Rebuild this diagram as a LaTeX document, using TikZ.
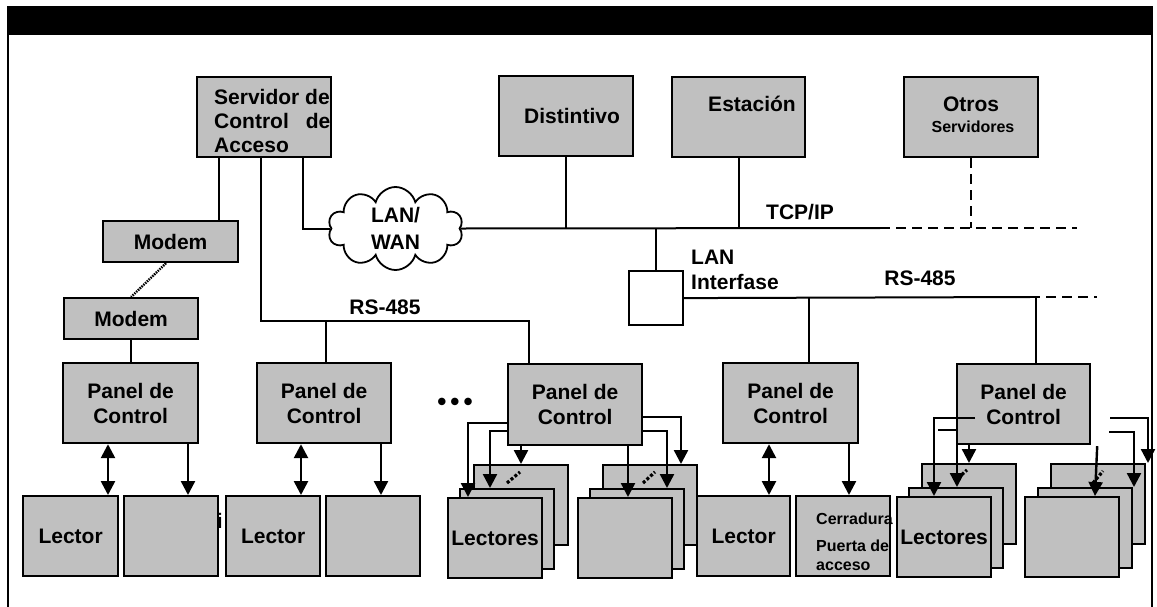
\documentclass[tikz,border=0pt]{standalone}
\usepackage{fontspec}
\setmainfont{Liberation Sans}
\usetikzlibrary{positioning, arrows.meta, calc, shapes.symbols}
\definecolor{boxgray}{HTML}{C0C0C0}

\begin{document}
\begin{tikzpicture}[x=1pt, y=-1pt,
box/.style={rectangle, draw, line width=2.2, fill=boxgray, anchor=north west, inner sep=0, align=center, font=\bfseries\fontsize{21}{25}\selectfont},
lbl/.style={inner sep=0, align=center, font=\bfseries\fontsize{21}{25}\selectfont},
small/.style={inner sep=0, align=left, font=\bfseries\fontsize{16}{19}\selectfont},
ln/.style={line width=2},
dsh/.style={line width=2.4, dash pattern=on 10pt off 6pt},
arr/.style={line width=2.4, -{Triangle[length=14pt, width=14pt]}},
dbl/.style={line width=2.6, {Triangle[length=14pt, width=14pt]}-{Triangle[length=14pt, width=14pt]}},
dots/.style={line width=3.2, dash pattern=on 3pt off 2pt},
]

\useasboundingbox (0,0) rectangle (1157,606);

% Frame and title bar
\draw[line width=1.8] (8,640) -- (8,7) -- (1152,7) -- (1152,640);
\fill (8,7) rectangle (1152,35);

% Servers
\node[box, minimum width=134, minimum height=80] (srv) at (196,76) {};
\node[lbl, align=left, anchor=west, font=\bfseries\fontsize{21}{24}\selectfont] (srvtxt) at (214,121) {Servidor de\\Control\hspace{17pt}de\\Acceso};
\node[box, minimum width=134, minimum height=80] (dist) at (498,75) {};
\node[lbl] (disttxt) at (572,116) {Distintivo};
\node[box, minimum width=133, minimum height=80] (est) at (671,76) {};
\node[lbl] (esttxt) at (752,104) {Estación};
\node[box, minimum width=134, minimum height=80] (otr) at (903,76) {};
\node[lbl] (otrtxt) at (971,104) {Otros};
\node[small] (otrtxt2) at (973,127) {Servidores};

% Network
\node[lbl, cloud, cloud puffs=10, aspect=1.6, draw, fill=white, line width=1.8, minimum width=135, minimum height=83, font=\bfseries\fontsize{21}{27}\selectfont] (lan) at (395.5,228.5) {LAN/\\WAN};
\node[box, fill=white, minimum width=54, minimum height=54] (lif) at (628,270) {};
\node[lbl, align=left, anchor=west] (liftxt) at (691,269.5) {LAN\\Interfase};
\node[lbl] (tcp) at (800,212) {TCP/IP};
\node[lbl] (rs1) at (385,307) {RS-485};
\node[lbl] (rs2) at (920,278) {RS-485};
\coordinate (tcpend) at (880,228);
\coordinate (tcpfar) at (1077,228);
\coordinate (rsend) at (1030,297);
\coordinate (rsfar) at (1097,297);

% Modems and panels
\node[box, minimum width=135, minimum height=41] (m1) at (102,220) {Modem};
\node[box, minimum width=134, minimum height=41] (m2) at (63,297) {Modem};
\node[box, minimum width=135, minimum height=80] (p1) at (62,362) {Panel de\\Control};
\node[box, minimum width=134, minimum height=80] (p2) at (256,362) {Panel de\\Control};
\node[box, minimum width=134, minimum height=81] (p3) at (507,363) {Panel de\\Control};
\node[box, minimum width=135, minimum height=80] (p4) at (722,362) {Panel de\\Control};
\node[box, minimum width=133, minimum height=80] (p5) at (956,363) {Panel de\\Control};
\node[lbl, font=\bfseries\fontsize{26}{25}\selectfont] (more) at (455,404) {•\hspace{4pt}•\hspace{4pt}•};

% Readers and locks
\node[lbl] (frag) at (214,521) {vi};
\node[box, minimum width=95, minimum height=80] (l1) at (22,495) {Lector};
\node[box, minimum width=94, minimum height=80] (b1) at (123,495) {};
\node[box, minimum width=94, minimum height=80] (l2) at (225,495) {Lector};
\node[box, minimum width=94, minimum height=80] (b2) at (325,495) {};
\node[box, minimum width=93, minimum height=80] (l4) at (696,495) {Lector};
\node[box, minimum width=94, minimum height=80] (cer) at (795,495) {};
\node[small, anchor=west] (certxt) at (816,519) {Cerradura};
\node[small, anchor=west] (certxt2) at (816,555.5) {Puerta de\\acceso};

% Stacks
\node[box, minimum width=94, minimum height=80] (l3b) at (473,464) {};
\node[box, minimum width=94, minimum height=80] (l3m) at (459,488) {};
\node[box, minimum width=94, minimum height=80] (l3f) at (447,497) {Lectores};
\node[box, minimum width=94, minimum height=80] (e3b) at (602,464) {};
\node[box, minimum width=94, minimum height=80] (e3m) at (589,488) {};
\node[box, minimum width=94, minimum height=80] (e3f) at (577,497) {};
\node[box, minimum width=94, minimum height=80] (l5b) at (921,463) {};
\node[box, minimum width=94, minimum height=80] (l5m) at (908,487) {};
\node[box, minimum width=94, minimum height=80] (l5f) at (896,496) {Lectores};
\node[box, minimum width=94, minimum height=80] (e5b) at (1050,463) {};
\node[box, minimum width=94, minimum height=80] (e5m) at (1037,487) {};
\node[box, minimum width=94, minimum height=80] (e5f) at (1024,496) {};

% TCP/IP side
\draw[ln] ($(srv.south west)+(107,0)$) |- (lan.west);
\draw[ln] (lan.east) -- (tcpend);
\draw[dsh] (tcpend) -- (tcpfar);
\draw[ln] (dist.south) -- (dist.south |- tcpend);
\draw[ln] (est.south) -- (est.south |- tcpend);
\draw[dsh] (otr.south) -- (otr.south |- tcpend);
\draw[ln] (lif.north) -- (lif.north |- tcpend);
\draw[ln] (lif.east) -- (rsend);
\draw[dsh] (rsend) -- (rsfar);
\draw[ln] ($(p4.north west)+(87,0)$) -- ++(0,-65);
\draw[ln] ($(p5.north west)+(80,0)$) -- ++(0,-66);

% RS-485 side
\draw[ln] ($(srv.south west)+(65,0)$) |- ($(p3.north west)+(22,-42)$) -- ($(p3.north west)+(22,0)$);
\draw[ln] ($(p2.north west)+(70,0)$) -- ++(0,-41);
\draw[ln] ($(srv.south west)+(23,0)$) -- ($(m1.north west)+(117,0)$);
\draw[line width=2.4, dash pattern=on 1.5pt off 1pt] ($(m1.south west)+(64,0)$) -- (m2.north);
\draw[ln] (m2.south) -- (m2.south |- p1.north);

% Panel arrows
\draw[dbl] ($(p1.south west)+(46,0)$) -- ($(l1.north west)+(86,0)$);
\draw[arr] ($(p1.south west)+(126,0)$) -- ($(b1.north west)+(65,0)$);
\draw[dbl] ($(p2.south west)+(45,0)$) -- ($(l2.north west)+(76,0)$);
\draw[arr] ($(p2.south west)+(125,0)$) -- ($(b2.north west)+(56,0)$);
\draw[dbl] ($(p4.south west)+(47,0)$) -- ($(l4.north west)+(73,0)$);
\draw[arr] ($(p4.south west)+(127,0)$) -- ($(cer.north west)+(54,0)$);

\draw[arr] ($(p3.north west)+(0,60)$) -| ($(l3f.north west)+(21,0)$);
\draw[arr] ($(p3.north west)+(0,68)$) -| ($(l3m.north west)+(31,0)$);
\draw[arr] ($(p3.south west)+(14,0)$) -- ($(l3b.north west)+(48,0)$);
\draw[dots] ($(l3m.north west)+(48,-5)$) -- ($(l3m.north west)+(61,-16)$);
\draw[arr] ($(p3.south west)+(121,0)$) -- ($(e3f.north west)+(51,0)$);
\draw[arr] ($(p3.north east)+(0,68)$) -| ($(e3m.north west)+(78,0)$);
\draw[arr] ($(p3.north east)+(0,54)$) -| ($(e3b.north west)+(79,0)$);
\draw[dots] ($(e3m.north west)+(54,-5)$) -- ($(e3m.north west)+(66,-16)$);

\draw[arr] ($(p5.north west)+(19,55)$) -| ($(l5f.north west)+(38,0)$);
\draw[arr] ($(p5.north west)+(-18,67)$) -| ($(l5m.north west)+(49,0)$);
\draw[arr] ($(p5.south west)+(13,0)$) -- ($(l5b.north west)+(48,0)$);
\draw[dots] ($(l5m.north west)+(50,-9)$) -- ($(l5m.north west)+(59,-17)$);
\draw[arr] ($(p5.south east)+(6,1)$) -- ($(e5f.north west)+(71,0)$);
\draw[arr] ($(p5.north east)+(18,69)$) -| ($(e5m.north west)+(97,0)$);
\draw[arr] ($(p5.north east)+(19,55)$) -| ($(e5b.north west)+(98,0)$);
\draw[dots] ($(e5m.north west)+(56,-4)$) -- ($(e5m.north west)+(66,-16)$);

\end{tikzpicture}
\end{document}
